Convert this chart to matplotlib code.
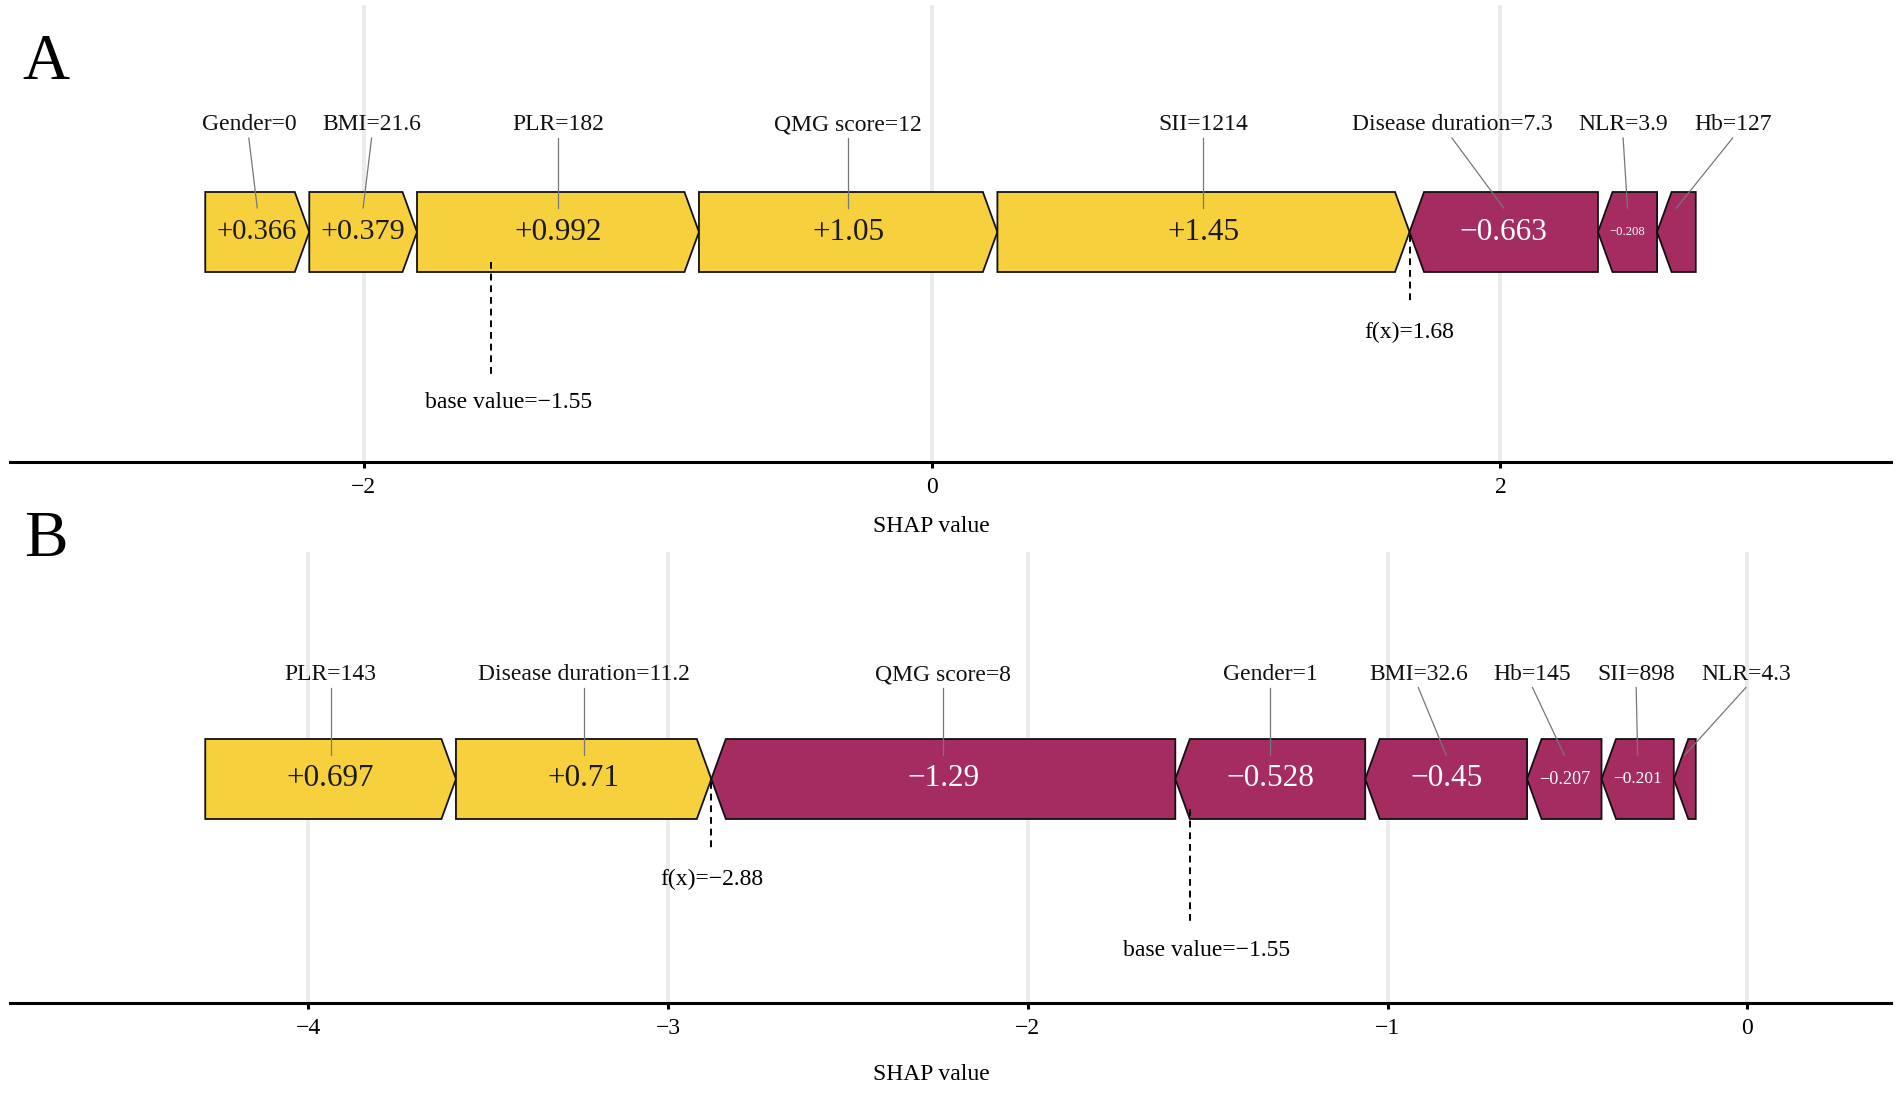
import numpy as np
import matplotlib.pyplot as plt
from matplotlib.patches import Polygon
from matplotlib.ticker import MultipleLocator

plt.rcParams['font.family'] = ['Liberation Serif', 'DejaVu Serif']

# ---- data: panel A
features_a = ["Gender", "BMI", "PLR", "QMG score", "SII", "Disease duration", "NLR", "Hb"]
feature_vals_a = ["0", "21.6", "182", "12", "1214", "7.3", "3.9", "127"]
shap_a = [0.366, 0.379, 0.992, 1.05, 1.45, -0.663, -0.208, -0.136]
base_a = -1.55
fx_a = 1.68

# ---- data: panel B
features_b = ["PLR", "Disease duration", "QMG score", "Gender", "BMI", "Hb", "SII", "NLR"]
feature_vals_b = ["143", "11.2", "8", "1", "32.6", "145", "898", "4.3"]
shap_b = [0.697, 0.71, -1.29, -0.528, -0.45, -0.207, -0.201, -0.061]
base_b = -1.55
fx_b = -2.88

YELLOW = '#f7d13d'
PURPLE = '#a52c60'

W, H = 1901, 1095
fig = plt.figure(figsize=(W / 100, H / 100), dpi=100)
renderer = fig.canvas.get_renderer()

# layout (pixels above the axis line)
BAR_H = 80
HEAD_PX = 14.5      # arrow head width
PAD_PX = 4.5
FS = 17
VAL_MAX = 22.5
VAL_MIN = 6


def fmt(v, sign=False):
    s = f"{v:+.3g}" if sign else f"{v:.3g}"
    return s.replace('-', '\u2212')


def repel(centers, widths, gap, n_iter=1000):
    order = np.argsort(centers)
    x = np.array(centers, float)[order]
    w = np.array(widths, float)[order]
    for _ in range(n_iter):
        moved = False
        for i in range(len(x) - 1):
            need = (w[i] + w[i + 1]) / 2 + gap
            d = x[i + 1] - x[i]
            if d < need - 1e-6:
                sh = (need - d) / 2
                x[i] -= sh
                x[i + 1] += sh
                moved = True
        if not moved:
            break
    out = np.empty_like(x)
    out[order] = x
    return out


def force_panel(top, bottom, feats, fvals, shap, base, fx, step, letter, letter_y,
                bar_bot, label_gap, title_off):
    left, right = 10, 1891
    ax = fig.add_axes([left / W, 1 - bottom / H, (right - left) / W, (bottom - top) / H])
    ax_h = bottom - top
    ax.set_ylim(0, ax_h)

    shap = np.asarray(shap, float)
    pos = np.where(shap > 0)[0]
    neg = np.where(shap < 0)[0]
    pos = pos[np.argsort(shap[pos])]
    neg = neg[np.argsort(shap[neg])]
    starts = np.zeros(len(shap))
    ends = np.zeros(len(shap))
    x = fx - shap[pos].sum()
    for i in pos:
        starts[i], ends[i] = x, x + shap[i]
        x = ends[i]
    x = fx
    for i in neg:
        starts[i], ends[i] = x, x - shap[i]
        x = ends[i]

    lo, hi = starts.min(), ends.max()
    span = hi - lo
    ax.set_xlim(lo - 0.131 * span, hi + 0.131 * span)
    xl = ax.get_xlim()
    ppu = (right - left) / (xl[1] - xl[0])
    head = HEAD_PX / ppu

    b, t = bar_bot, bar_bot + BAR_H
    mid = (b + t) / 2
    for i in range(len(shap)):
        s, e = starts[i], ends[i]
        if shap[i] > 0:
            pts = [(s, b), (e - head, b), (e, mid), (e - head, t), (s, t)]
            col, tcol = YELLOW, '#1a1a1a'
        else:
            pts = [(s, mid), (s + head, b), (e, b), (e, t), (s + head, t)]
            col, tcol = PURPLE, 'white'
        ax.add_patch(Polygon(pts, closed=True, facecolor=col, edgecolor='#111111',
                             lw=1.3, joinstyle='miter', zorder=2))
        txt = ax.text((s + e) / 2, mid, fmt(shap[i], sign=True), color=tcol,
                      fontsize=VAL_MAX, ha='center', va='center', zorder=4)
        w = txt.get_window_extent(renderer).width
        avail = abs(shap[i]) * ppu - HEAD_PX - 2 * PAD_PX
        if w > avail:
            size = VAL_MAX * avail / w
            if size < VAL_MIN:
                txt.remove()
            else:
                txt.set_fontsize(size)

    # feature labels, pushed apart like ggrepel
    centers = (starts + ends) / 2
    label_y = t + label_gap
    texts, widths = [], []
    for i in range(len(shap)):
        tx = ax.text(centers[i], label_y, f"{feats[i]}={fvals[i]}", fontsize=FS,
                     ha='center', va='center', color='#111111', zorder=4)
        texts.append(tx)
        widths.append(tx.get_window_extent(renderer).width)
    new_px = repel(centers * ppu, widths, gap=26)
    for i, tx in enumerate(texts):
        nx = new_px[i] / ppu
        tx.set_x(nx)
        ax.plot([nx, centers[i]], [label_y - 13, t - 16], color='#777777', lw=0.9, zorder=3)

    # f(x) and base value markers
    ax.plot([fx, fx], [mid - 3, b - 31], color='black', lw=1.4, ls=(0, (3.5, 2.5)), zorder=3)
    ax.text(fx, b - 60, f"f(x)={fmt(fx)}", fontsize=FS, ha='center', va='center')
    ax.plot([base, base], [b + 10, b - 104], color='black', lw=1.4, ls=(0, (3.5, 2.5)), zorder=3)
    ax.text(base + 17 / ppu, b - 131, f"base value={fmt(base)}", fontsize=FS,
            ha='center', va='center')

    # axes styling
    ax.xaxis.set_major_locator(MultipleLocator(step))
    ax.set_yticks([])
    ax.grid(axis='x', color='#ebebeb', lw=2.8)
    ax.set_axisbelow(True)
    for sp in ['top', 'left', 'right']:
        ax.spines[sp].set_visible(False)
    ax.spines['bottom'].set_linewidth(2.2)
    ax.tick_params(axis='x', direction='out', length=4, width=2.2, labelsize=FS, pad=7)
    ax.text(0.49, -title_off / ax_h, "SHAP value", transform=ax.transAxes, fontsize=FS,
            ha='center', va='center')
    fig.text(46 / W, 1 - letter_y / H, letter, fontsize=47, ha='center', va='center')
    return ax


ax_a = force_panel(5, 462, features_a, feature_vals_a, shap_a, base_a, fx_a, 2, "A", 63,
                   bar_bot=190, label_gap=67, title_off=65)
ax_b = force_panel(552, 1003, features_b, feature_vals_b, shap_b, base_b, fx_b, 1, "B", 540,
                   bar_bot=184, label_gap=64.5, title_off=71)

fig.savefig("out.png", dpi=100, facecolor='white')
